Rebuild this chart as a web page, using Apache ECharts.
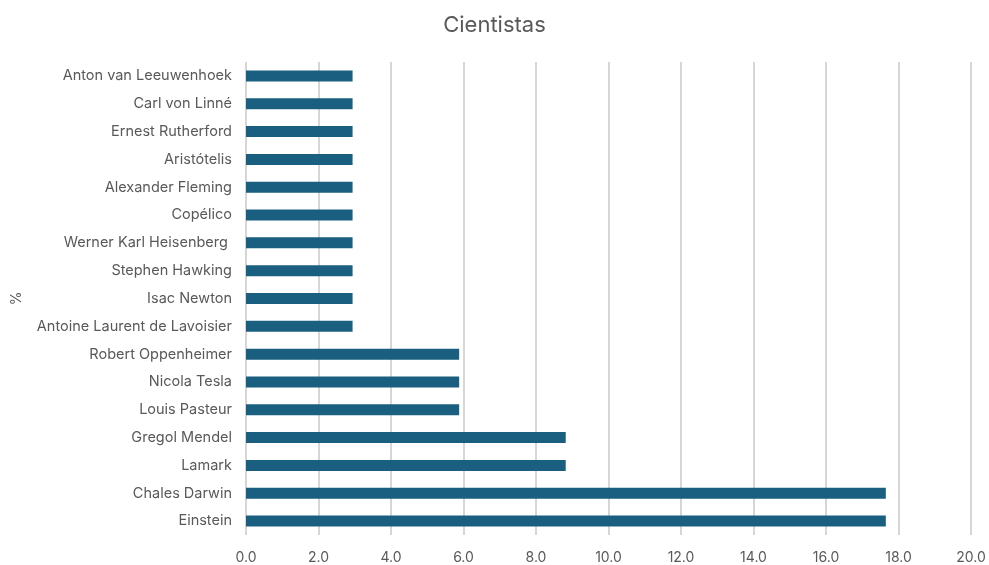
<!DOCTYPE html>
<html>
<head>
<meta charset="utf-8">
<script src="https://cdn.jsdelivr.net/npm/echarts@6/dist/echarts.min.js"></script>
<style>html,body{margin:0;padding:0;background:#fff}#c{width:989px;height:565px}</style>
</head>
<body>
<div id="c"></div>
<script>
var categories = ["Einstein","Chales Darwin","Lamark","Gregol Mendel","Louis Pasteur","Nicola Tesla","Robert Oppenheimer","Antoine Laurent de Lavoisier","Isac Newton","Stephen Hawking","Werner Karl Heisenberg ","Copélico","Alexander Fleming","Aristótelis","Ernest Rutherford","Carl von Linné","Anton van Leeuwenhoek"];
var values = [17.65,17.65,8.82,8.82,5.88,5.88,5.88,2.94,2.94,2.94,2.94,2.94,2.94,2.94,2.94,2.94,2.94];
var title = "Cientistas";
var axisName = "%";

var chart = echarts.init(document.getElementById('c'), null, {renderer:'canvas'});
var font = 'Inter, "Open Sans", "Noto Sans", sans-serif';
chart.setOption({
  animation:false,
  backgroundColor:'#ffffff',
  title:{text:title,left:'center',top:9,textStyle:{fontFamily:font,fontSize:22,fontWeight:'normal',color:'#595959'}},
  grid:{left:246,right:18,top:62,bottom:29,containLabel:false},
  xAxis:{type:'value',min:0,max:20,interval:2,
    axisLine:{show:false},axisTick:{show:false},
    axisLabel:{margin:16,color:'#595959',fontFamily:font,fontSize:14,formatter:function(v){return v.toFixed(1);}},
    splitLine:{show:true,lineStyle:{color:'#c8c8c8',width:1.5}}},
  yAxis:{type:'category',data:categories,name:axisName,nameLocation:'middle',nameGap:222,nameRotate:90,
    nameTextStyle:{color:'#595959',fontFamily:font,fontSize:14},
    axisLine:{show:false},axisTick:{show:false},
    axisLabel:{margin:14,color:'#595959',fontFamily:font,fontSize:14.5}},
  series:[{type:'bar',data:values,barWidth:11,itemStyle:{color:'#1a5f80'}}]
});
</script>
</body>
</html>
